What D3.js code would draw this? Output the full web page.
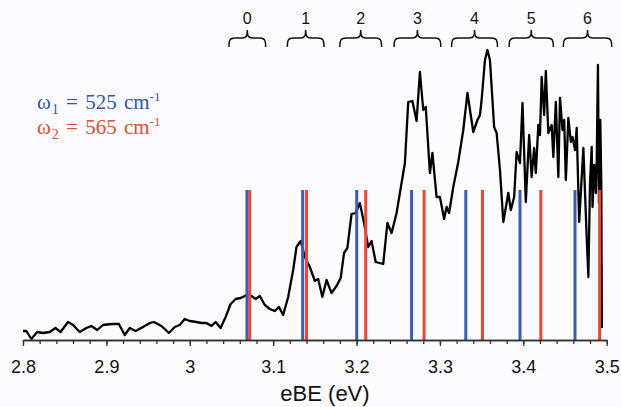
<!DOCTYPE html>
<html><head><meta charset="utf-8">
<script src="https://cdn.jsdelivr.net/npm/d3@7"></script>
<style>body{margin:0;background:#fcfcfe;} svg{display:block;}</style>
</head><body>
<script>
// ---- data ----
const spectrumEnergy = [2.800,2.804,2.810,2.817,2.824,2.832,2.839,2.845,2.854,2.860,2.868,2.876,2.882,2.889,2.896,2.906,2.915,2.922,2.928,2.935,2.944,2.952,2.957,2.966,2.975,2.982,2.988,2.994,3.000,3.008,3.014,3.020,3.026,3.031,3.037,3.043,3.049,3.055,3.061,3.066,3.070,3.074,3.079,3.084,3.090,3.096,3.102,3.107,3.112,3.118,3.124,3.128,3.133,3.138,3.144,3.150,3.154,3.159,3.164,3.170,3.176,3.181,3.185,3.189,3.194,3.199,3.204,3.209,3.214,3.218,3.223,3.232,3.237,3.242,3.248,3.254,3.258,3.262,3.267,3.272,3.276,3.280,3.283,3.288,3.291,3.296,3.300,3.305,3.308,3.311,3.316,3.322,3.328,3.333,3.340,3.345,3.348,3.350,3.354,3.357,3.360,3.365,3.368,3.372,3.376,3.382,3.385,3.389,3.392,3.396,3.399,3.403,3.407,3.410,3.413,3.415,3.418,3.420,3.422,3.425,3.427,3.430,3.434,3.436,3.439,3.442,3.444,3.447,3.449,3.451,3.454,3.457,3.459,3.462,3.464,3.467,3.472,3.476,3.478,3.480,3.482,3.483,3.485,3.487,3.488,3.4895,3.4907,3.4923,3.4935,3.4942];
const spectrumSignal = [9,9,1,8,7,8,12,8,18,15,8,12,14,10,15,16,16,5,12,9,13,17,18,14,7,13,15,21,19,18,17,17,14,18,12,23,36,41,42,44,46,44,41,44,35,31,29,33,25,43,70,93,99,83,73,59,61,43,60,47,54,62,87,92,126,127,137,117,93,99,78,76,117,107,127,157,177,238,239,219,268,230,233,167,187,143,143,121,133,127,153,178,210,247,208,220,225,240,280,290,280,213,207,170,118,147,130,143,188,177,237,138,205,163,192,167,215,205,263,225,269,207,215,183,238,163,242,210,220,160,222,198,203,190,212,118,192,103,63,157,193,133,175,147,177,275,137,220,157,12];
const blueSticks = [3.0686,3.1354,3.2002,3.266,3.331,3.396,3.462];
const redSticks  = [3.0718,3.140,3.211,3.281,3.351,3.421,3.4915];
const stickHeight = 150;
const progressionLabels = ["0","1","2","3","4","5","6"];
const braceStart = [3.047,3.117,3.180,3.245,3.314,3.383,3.448];
const braceEnd   = [3.091,3.161,3.230,3.301,3.369,3.436,3.506];
const majorTicks = [2.8,2.9,3.0,3.1,3.2,3.3,3.4,3.5];
const minorTicks = d3.range(0,36).map(i => +(2.8 + i*0.02).toFixed(2));
const legendLines = [
  {sym:"ω", sub:"1", text:" = 525 cm", sup:"-1", color:"#2f55ad"},
  {sym:"ω", sub:"2", text:" = 565 cm", sup:"-1", color:"#ea4a2e"}
];
const axisTitle = "eBE (eV)";

// ---- drawing ----
const W = 621, H = 407;
const svg = d3.select("body").append("svg").attr("width", W).attr("height", H);
svg.append("rect").attr("width", W).attr("height", H).attr("fill", "#fcfcfe");

const x = d3.scaleLinear().domain([2.8, 3.5]).range([23, 606.7]);
const y = d3.scaleLinear().domain([0, 300]).range([340, 40]);

// spectrum
const pts = spectrumEnergy.map((e,i)=>[e, spectrumSignal[i]]);
svg.append("path").datum(pts)
  .attr("fill","none").attr("stroke","#000").attr("stroke-width",2.3)
  .attr("stroke-linejoin","round")
  .attr("d", d3.line().x(d=>x(d[0])).y(d=>y(d[1])));

// sticks
function sticks(data, color){
  svg.append("g").selectAll("line").data(data).join("line")
    .attr("x1", d=>x(d)).attr("x2", d=>x(d))
    .attr("y1", y(0)).attr("y2", y(stickHeight))
    .attr("stroke", color).attr("stroke-width", 3);
}
sticks(blueSticks, "#3a5cc0");
sticks(redSticks, "#f04631");

// axes
const axisG = svg.append("g").attr("transform", `translate(0,${y(0)})`);
axisG.call(d3.axisBottom(x).tickValues(minorTicks).tickSize(4).tickSizeOuter(0).tickFormat(""));
const major = svg.append("g").attr("transform", `translate(0,${y(0)})`)
  .call(d3.axisBottom(x).tickValues(majorTicks).tickSize(6).tickSizeOuter(0).tickPadding(14).tickFormat(d=>String(+d.toFixed(1))));
svg.selectAll(".domain, .tick line").attr("stroke","#333").attr("stroke-width",1.3);
major.selectAll("text").attr("font-family","Liberation Sans, Arial, sans-serif")
  .attr("font-size",18).attr("fill","#111");

svg.append("text").attr("x", 325).attr("y", 401).attr("text-anchor","middle")
  .attr("font-family","Liberation Sans, Arial, sans-serif").attr("font-size",22).attr("fill","#111")
  .text(axisTitle);

// braces
const bg = svg.append("g");
progressionLabels.forEach((lab,i)=>{
  const a = x(braceStart[i]), b = x(braceEnd[i]), m = (a+b)/2;
  const p = `M${a},47 C${a},40 ${a+1},38 ${a+6},38 L${m-5},38 C${m-1},38 ${m},36 ${m},30 C${m},36 ${m+1},38 ${m+5},38 L${b-6},38 C${b-1},38 ${b},40 ${b},47`;
  bg.append("path").attr("d", p).attr("fill","none").attr("stroke","#111").attr("stroke-width",1.5);
  bg.append("text").attr("x", m).attr("y", 24).attr("text-anchor","middle")
    .attr("font-family","Liberation Sans, Arial, sans-serif").attr("font-size",16).attr("fill","#111").text(lab);
});

// legend
legendLines.forEach((L,i)=>{
  const t = svg.append("text").attr("x", 37).attr("y", 109 + i*25)
    .attr("font-family","Liberation Serif, Times New Roman, serif").attr("font-size",21)
    .attr("fill", L.color).attr("word-spacing", 2);
  t.append("tspan").text(L.sym);
  t.append("tspan").attr("font-size",14).attr("dy",5).attr("dx",1).text(L.sub);
  t.append("tspan").attr("dy",-5).text(L.text);
  t.append("tspan").attr("font-size",13).attr("dy",-8).text(L.sup);
});
</script>
</body></html>
